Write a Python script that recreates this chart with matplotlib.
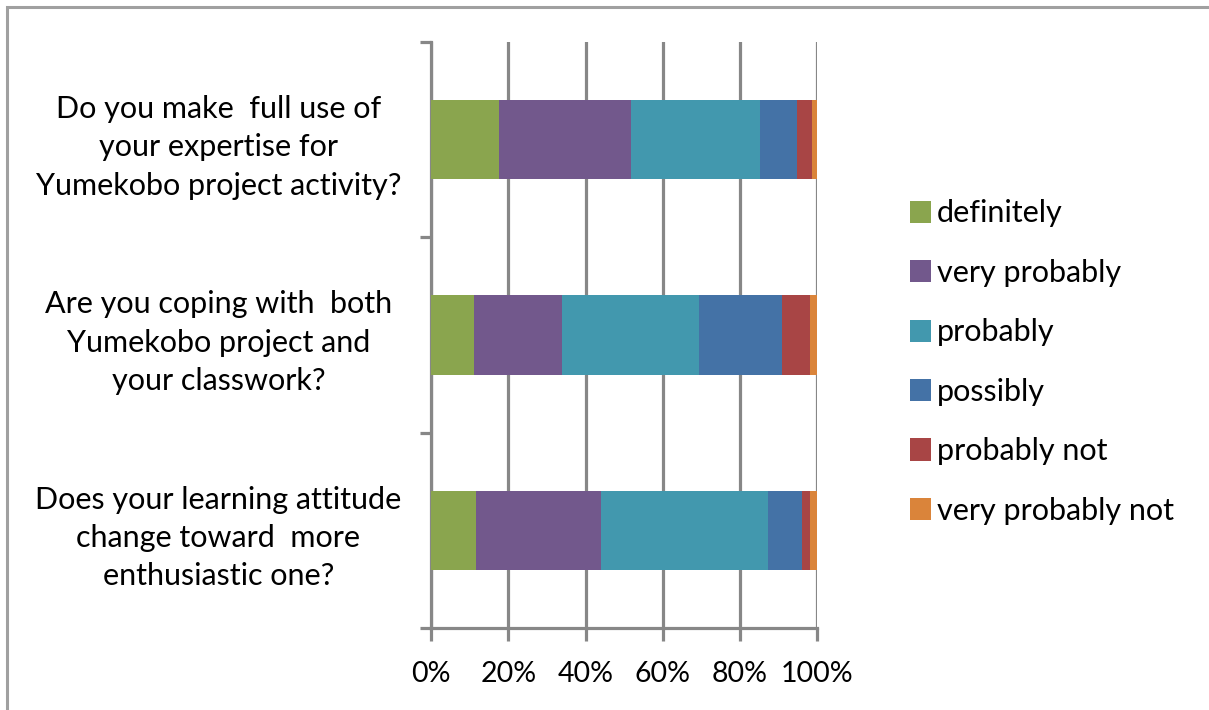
import matplotlib
matplotlib.use("Agg")
import matplotlib.pyplot as plt
from matplotlib.patches import Rectangle
import numpy as np

plt.rcParams["font.family"] = ["Lato", "DejaVu Sans"]

questions = [
    "Do you make  full use of\nyour expertise for\nYumekobo project activity?",
    "Are you coping with  both\nYumekobo project and\nyour classwork?",
    "Does your learning attitude\nchange toward  more\nenthusiastic one?",
]
answers = ["definitely", "very probably", "probably", "possibly",
           "probably not", "very probably not"]
# percentages, one list per answer, in question order (top to bottom)
definitely = [17.6, 11.1, 11.7]
very_probably = [34.2, 22.7, 32.3]
probably = [33.3, 35.7, 43.2]
possibly = [9.7, 21.4, 8.9]
probably_not = [3.9, 7.1, 1.9]
very_probably_not = [1.3, 2.0, 2.0]
colors = ["#8AA54E", "#72588C", "#4298AE", "#4472A6", "#A84545", "#DA843A"]

series = [definitely, very_probably, probably, possibly, probably_not,
          very_probably_not]

fig = plt.figure(figsize=(12.09, 7.10), dpi=100)
ax = fig.add_axes([431 / 1209, 82 / 710, 386.3 / 1209, 586 / 710])

grid_col = "#878787"
y = np.arange(len(questions))
left = np.zeros(len(questions))
for vals, name, col in zip(series, answers, colors):
    vals = np.array(vals)
    ax.barh(y, vals, left=left, height=0.405, color=col, label=name,
            zorder=3)
    left += vals

ax.set_xlim(0, 100)
ax.set_ylim(2.5, -0.5)
ax.set_xticks([0, 20, 40, 60, 80, 100])
ax.set_xticklabels(["0%", "20%", "40%", "60%", "80%", "100%"])
ax.xaxis.grid(True, color=grid_col, linewidth=2.3, zorder=0)
ax.set_axisbelow(True)

ax.set_yticks(y)
ax.set_yticklabels(questions, ha="center", multialignment="center",
                   linespacing=1.45)
ax.set_yticks([-0.5, 0.5, 1.5, 2.5], minor=True)
ax.tick_params(axis="y", which="major", length=0, pad=153, labelsize=22)
ax.tick_params(axis="y", which="minor", length=8, width=2.3, color=grid_col,
               direction="out")
ax.tick_params(axis="x", length=9, width=2.3, color=grid_col, pad=15,
               labelsize=20.5)

for side in ["top", "right"]:
    ax.spines[side].set_visible(False)
for side in ["left", "bottom"]:
    ax.spines[side].set_color(grid_col)
    ax.spines[side].set_linewidth(2.3)

fig.legend(loc="center left", bbox_to_anchor=(910 / 1209, 0.490),
           frameon=False, fontsize=22, handlelength=0.69, handleheight=0.75,
           handletextpad=0.2, labelspacing=1.03, borderpad=0,
           borderaxespad=0)

# outer chart border (only top and left are inside the picture)
fig.patches.append(Rectangle((7 / 1209, -0.1), 1.2, 703 / 710 + 0.1,
                             transform=fig.transFigure, fill=False,
                             edgecolor="#A0A0A0", linewidth=2.2))

fig.savefig("out.png", dpi=100)
